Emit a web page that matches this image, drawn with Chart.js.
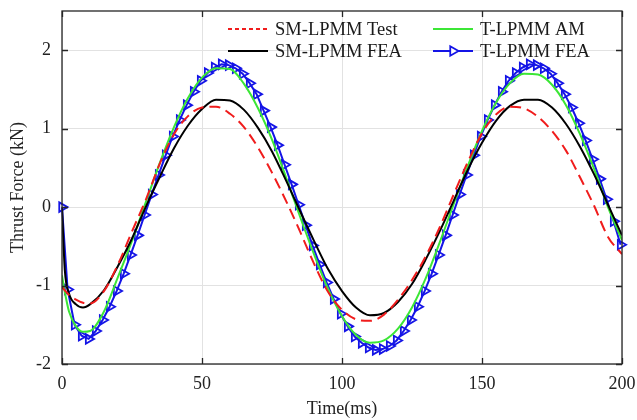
<!DOCTYPE html>
<html>
<head>
<meta charset="utf-8">
<script src="https://cdn.jsdelivr.net/npm/chart.js@4.4.1/dist/chart.umd.min.js"></script>
<style>
  html, body { margin: 0; padding: 0; background: #fff; }
  canvas { display: block; }
</style>
</head>
<body>
<canvas id="chart" width="637" height="420"></canvas>
<script>
/* Thrust force vs time, four curves. */

// time axis (ms) shared by the three plain curves
const timeLine = [0, 1, 2.5, 5, 7.5, 10, 15, 20, 25, 30, 35, 40, 45, 50, 55, 60, 65, 70, 75, 80,
  85, 90, 95, 100, 105, 110, 115, 120, 125, 130, 135, 140, 145, 150, 155, 160, 165, 170, 175, 180,
  185, 190, 195, 200];

const smTest = [-1.02, -1.06, -1.12, -1.18, -1.22, -1.23, -1.07, -0.73, -0.31, 0.10, 0.56, 0.93, 1.16, 1.27, 1.28, 1.19, 1.02, 0.76, 0.44, 0.08,
  -0.31, -0.72, -1.08, -1.31, -1.43, -1.45, -1.37, -1.18, -0.93, -0.62, -0.25, 0.17, 0.58, 0.94, 1.18, 1.28, 1.26, 1.15, 0.97, 0.72,
  0.38, 0.02, -0.38, -0.60];

const smFea = [0, -0.80, -1.10, -1.24, -1.28, -1.24, -1.06, -0.75, -0.40, 0.01, 0.39, 0.75, 1.04, 1.25, 1.37, 1.36, 1.24, 1.01, 0.71, 0.34,
  -0.05, -0.43, -0.79, -1.07, -1.28, -1.38, -1.35, -1.21, -0.98, -0.66, -0.30, 0.09, 0.48, 0.82, 1.10, 1.29, 1.37, 1.37, 1.27, 1.06,
  0.77, 0.42, 0.03, -0.36];

const tAm = [-0.87, -1.08, -1.33, -1.52, -1.59, -1.58, -1.33, -0.89, -0.43, 0.07, 0.57, 1.02, 1.39, 1.65, 1.77, 1.76, 1.57, 1.26, 0.86, 0.38,
  -0.12, -0.60, -1.04, -1.39, -1.63, -1.73, -1.70, -1.55, -1.28, -0.90, -0.44, 0.05, 0.53, 0.97, 1.33, 1.58, 1.70, 1.69, 1.56, 1.30,
  0.93, 0.49, 0.00, -0.42];

// T-LPMM FEA has its own sample times (one marker per sample)
const timeFea = [0, 2, 4.5, 7, 9.5, 12, 14.5, 17, 19.5, 22, 24.5, 27, 29.5, 32, 34.5, 37, 39.5, 42, 44.5, 47,
  49.5, 52, 54.5, 57, 59.5, 62, 64.5, 67, 69.5, 72, 74.5, 77, 79.5, 82, 84.5, 87, 89.5, 92, 94.5, 97,
  99.5, 102, 104.5, 107, 109.5, 112, 114.5, 117, 119.5, 122, 124.5, 127, 129.5, 132, 134.5, 137, 139.5, 142, 144.5, 147,
  149.5, 152, 154.5, 157, 159.5, 162, 164.5, 167, 169.5, 172, 174.5, 177, 179.5, 182, 184.5, 187, 189.5, 192, 194.5, 197,
  199.5];

const tFea = [0, -1.05, -1.50, -1.64, -1.68, -1.58, -1.44, -1.27, -1.07, -0.85, -0.61, -0.36, -0.10, 0.16, 0.41, 0.66, 0.90, 1.11, 1.30, 1.47,
  1.61, 1.71, 1.78, 1.82, 1.81, 1.77, 1.70, 1.58, 1.44, 1.23, 1.02, 0.79, 0.54, 0.29, 0.03, -0.23, -0.49, -0.73, -0.96, -1.17,
  -1.36, -1.52, -1.65, -1.73, -1.79, -1.82, -1.81, -1.77, -1.70, -1.58, -1.44, -1.27, -1.07, -0.85, -0.61, -0.36, -0.10, 0.16, 0.41, 0.66,
  0.90, 1.11, 1.30, 1.47, 1.61, 1.71, 1.78, 1.82, 1.81, 1.77, 1.70, 1.58, 1.44, 1.27, 1.07, 0.85, 0.61, 0.36, 0.10, -0.18,
  -0.48];

const xTicks = [0, 50, 100, 150, 200];
const yTicks = [-2, -1, 0, 1, 2];

const SERIF = "'Liberation Serif', 'Times New Roman', serif";
const toXY = (xs, ys) => xs.map((x, i) => ({ x, y: ys[i] }));

/* ---------- MATLAB-ish box with inward ticks ---------- */
const frame = {
  id: 'frame',
  afterDatasetsDraw(chart) {
    const { ctx, chartArea: a, scales: { x, y } } = chart;
    ctx.save();
    ctx.strokeStyle = '#262626';
    ctx.lineWidth = 1.3;
    ctx.strokeRect(a.left, a.top, a.right - a.left, a.bottom - a.top);
    ctx.beginPath();
    x.ticks.forEach(t => {
      const px = Math.round(x.getPixelForValue(t.value)) + 0.5;
      ctx.moveTo(px, a.bottom); ctx.lineTo(px, a.bottom - 6);
      ctx.moveTo(px, a.top);    ctx.lineTo(px, a.top + 6);
    });
    y.ticks.forEach(t => {
      const py = Math.round(y.getPixelForValue(t.value)) + 0.5;
      ctx.moveTo(a.left, py);  ctx.lineTo(a.left + 6, py);
      ctx.moveTo(a.right, py); ctx.lineTo(a.right - 6, py);
    });
    ctx.stroke();
    ctx.restore();
  }
};

/* ---------- legend in two columns, inside the axes ---------- */
const boxLegend = {
  id: 'boxLegend',
  afterDraw(chart) {
    const { ctx, chartArea: a } = chart;
    const slots = [[166, 18], [166, 40], [371, 18], [371, 40]]; // offsets from top-left of plot
    ctx.save();
    ctx.font = '18.5px ' + SERIF;
    ctx.textBaseline = 'middle';
    chart.data.datasets.forEach((ds, i) => {
      const x0 = a.left + slots[i][0], y0 = a.top + slots[i][1];
      ctx.strokeStyle = ds.borderColor;
      ctx.lineWidth = ds.borderWidth;
      ctx.setLineDash(ds.borderDash && ds.borderDash.length ? [4, 3] : []);
      ctx.beginPath();
      ctx.moveTo(x0, y0); ctx.lineTo(x0 + 40, y0);
      ctx.stroke();
      ctx.setLineDash([]);
      if (ds.pointRadius) {
        ctx.lineWidth = ds.pointBorderWidth;
        ctx.fillStyle = '#ffffff';
        Chart.helpers.drawPoint(ctx, {
          pointStyle: ds.pointStyle, rotation: ds.pointRotation,
          radius: ds.pointRadius, borderWidth: ds.pointBorderWidth
        }, x0 + 20, y0);
      }
      ctx.fillStyle = '#1a1a1a';
      ctx.fillText(ds.label, x0 + 47, y0 + 1);
    });
    ctx.restore();
  }
};

Chart.defaults.font.family = SERIF;

new Chart(document.getElementById('chart'), {
  type: 'line',
  data: {
    datasets: [
      {
        label: 'SM-LPMM Test',
        data: toXY(timeLine, smTest),
        borderColor: '#f01c1c',
        borderWidth: 2,
        borderDash: [11, 6],
        pointRadius: 0,
        cubicInterpolationMode: 'monotone'
      },
      {
        label: 'SM-LPMM FEA',
        data: toXY(timeLine, smFea),
        borderColor: '#000000',
        borderWidth: 2,
        pointRadius: 0,
        cubicInterpolationMode: 'monotone'
      },
      {
        label: 'T-LPMM AM',
        data: toXY(timeLine, tAm),
        borderColor: '#3ce636',
        borderWidth: 2,
        pointRadius: 0,
        cubicInterpolationMode: 'monotone'
      },
      {
        label: 'T-LPMM FEA',
        data: toXY(timeFea, tFea),
        borderColor: '#1414e6',
        borderWidth: 2,
        pointStyle: 'triangle',
        pointRotation: 90,
        pointRadius: 5.5,
        pointBorderWidth: 1.8,
        pointBorderColor: '#1414e6',
        pointBackgroundColor: 'rgba(255,255,255,0)',
        tension: 0,
        clip: 8
      }
    ]
  },
  options: {
    responsive: false,
    animation: false,
    layout: { padding: { top: 11, right: 15, left: 0, bottom: 0 } },
    plugins: { legend: { display: false }, tooltip: { enabled: false } },
    scales: {
      x: {
        type: 'linear',
        min: 0,
        max: 200,
        afterBuildTicks: s => { s.ticks = xTicks.map(v => ({ value: v })); },
        // fixed band height, and no extra room for the end labels
        afterFit: s => { s.height = 56; s.paddingLeft = 0; s.paddingRight = 0; },
        ticks: { color: '#222', font: { size: 18 }, padding: 9, maxRotation: 0 },
        grid: { color: '#e2e2e2', drawTicks: false },
        border: { display: false },
        title: { display: true, text: 'Time(ms)', color: '#222', font: { size: 18 }, padding: { top: 0, bottom: 0 } }
      },
      y: {
        type: 'linear',
        min: -2,
        max: 2.5,
        afterBuildTicks: s => { s.ticks = yTicks.map(v => ({ value: v })); },
        afterFit: s => { s.width = 62; s.paddingTop = 0; s.paddingBottom = 0; },
        ticks: { color: '#222', font: { size: 18 }, padding: 11 },
        grid: { color: '#e2e2e2', drawTicks: false },
        border: { display: false },
        title: { display: true, text: 'Thrust Force (kN)', color: '#222', font: { size: 18 }, padding: { top: 7, bottom: 0 } }
      }
    }
  },
  plugins: [frame, boxLegend]
});
</script>
</body>
</html>
